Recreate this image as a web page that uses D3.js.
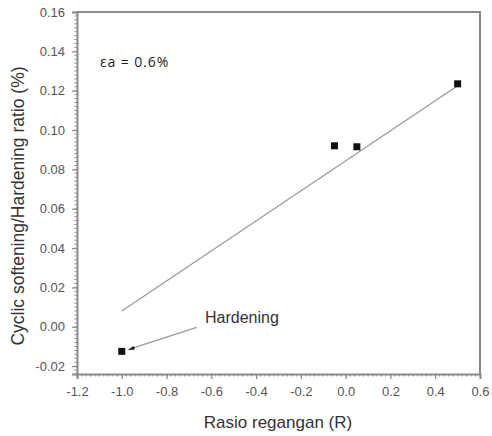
<!doctype html>
<html>
  <head>
    <meta charset="utf-8">
    <title>Cyclic softening/Hardening ratio</title>
    <script src="https://d3js.org/d3.v7.min.js"></script>
    <style type="text/css">
      body { margin: 0; background-color: #ffffff; }
      text { font-family: "Liberation Sans", Arial, sans-serif; }
    </style>
  </head>
  <body>
    <script>
      // data
      var ratioR = [-1.0, -0.05, 0.05, 0.5];
      var softening = [-0.0125, 0.092, 0.0915, 0.1235];
      // fitted line end points
      var fitR = [-1.0, 0.5];
      var fitVal = [0.008, 0.1225];
      var xTicks = [-1.2, -1.0, -0.8, -0.6, -0.4, -0.2, 0.0, 0.2, 0.4, 0.6];
      var yTicks = [-0.02, 0.00, 0.02, 0.04, 0.06, 0.08, 0.10, 0.12, 0.14, 0.16];

      var w = 492, h = 436;
      var mLeft = 77, mRight = 480, mTop = 12, mBottom = 374;

      var svg = d3.select("body").append("svg")
        .attr("width", w)
        .attr("height", h);

      var x = d3.scaleLinear().domain([-1.2, 0.6]).range([mLeft, mRight]);
      var y = d3.scaleLinear().domain([-0.024, 0.16]).range([mBottom, mTop]);

      var axisColor = "#8a8a8a";

      // plain hyphen minus like the original
      function fmt(p) {
        return function(d) {
          var s = Math.abs(d).toFixed(p);
          return (d < -1e-9 ? "-" : "") + s;
        };
      }

      // minor ticks
      var xMinor = d3.range(0, 91).map(function(i) { return -1.2 + i * 0.02; });
      var yMinor = d3.range(0, 93).map(function(i) { return -0.024 + i * 0.002; });
      svg.append("g").selectAll("line")
        .data(xMinor).enter().append("line")
        .attr("x1", function(d) { return x(d); })
        .attr("x2", function(d) { return x(d); })
        .attr("y1", mBottom).attr("y2", mBottom + 2.5)
        .attr("stroke", axisColor).attr("stroke-width", 1);
      svg.append("g").selectAll("line")
        .data(yMinor).enter().append("line")
        .attr("y1", function(d) { return y(d); })
        .attr("y2", function(d) { return y(d); })
        .attr("x1", mLeft).attr("x2", mLeft - 2.5)
        .attr("stroke", axisColor).attr("stroke-width", 1);

      // axes
      var xAxis = svg.append("g")
        .attr("transform", "translate(0," + mBottom + ")")
        .call(d3.axisBottom(x).tickValues(xTicks).tickSize(5).tickPadding(8)
          .tickFormat(fmt(1)));
      var yAxis = svg.append("g")
        .attr("transform", "translate(" + mLeft + ",0)")
        .call(d3.axisLeft(y).tickValues(yTicks).tickSize(5).tickPadding(7)
          .tickFormat(fmt(2)));

      [xAxis, yAxis].forEach(function(a) {
        a.select(".domain").attr("stroke", axisColor).attr("stroke-width", 2);
        a.selectAll(".tick line").attr("stroke", axisColor).attr("stroke-width", 1.2);
        a.selectAll(".tick text")
          .attr("fill", "#555")
          .style("font-size", "13px");
      });

      // top and right frame
      svg.append("path")
        .attr("d", "M" + mLeft + "," + mTop + "H" + mRight + "V" + mBottom)
        .attr("fill", "none")
        .attr("stroke", axisColor)
        .attr("stroke-width", 2);

      // fitted line
      var line = d3.line()
        .x(function(d) { return x(d[0]); })
        .y(function(d) { return y(d[1]); });
      svg.append("path")
        .datum(d3.zip(fitR, fitVal))
        .attr("d", line)
        .attr("fill", "none")
        .attr("stroke", "#9a9a9a")
        .attr("stroke-width", 1.3);

      // data points
      svg.append("g").selectAll("rect")
        .data(d3.zip(ratioR, softening)).enter().append("rect")
        .attr("x", function(d) { return x(d[0]) - 3.5; })
        .attr("y", function(d) { return y(d[1]) - 3.5; })
        .attr("width", 7)
        .attr("height", 7)
        .attr("fill", "#111");

      // annotation arrow for hardening
      var px = x(ratioR[0]), py = y(softening[0]);
      svg.append("line")
        .attr("x1", px + 10).attr("y1", py - 3)
        .attr("x2", px + 75).attr("y2", py - 24)
        .attr("stroke", "#999").attr("stroke-width", 1.3);
      svg.append("path")
        .attr("d", "M" + (px + 6) + "," + (py - 1.5) + "L" + (px + 12) + "," + (py - 5.5) + "L" + (px + 13) + "," + (py - 2) + "Z")
        .attr("fill", "#111");
      svg.append("text")
        .attr("x", 205).attr("y", 323)
        .attr("fill", "#333")
        .style("font-size", "16px")
        .text("Hardening");

      // strain amplitude label
      svg.append("text")
        .attr("x", 100).attr("y", 67)
        .attr("fill", "#222")
        .style("font-family", "'Open Sans', sans-serif")
        .style("font-size", "14px")
        .style("letter-spacing", "0.9px")
        .text("\u03b5a = 0.6%");

      // axis titles
      svg.append("text")
        .attr("x", 278).attr("y", 428)
        .attr("text-anchor", "middle")
        .attr("fill", "#333")
        .style("font-size", "17px")
        .text("Rasio regangan (R)");
      svg.append("text")
        .attr("transform", "translate(24,206) rotate(-90)")
        .attr("text-anchor", "middle")
        .attr("fill", "#333")
        .style("font-size", "17.5px")
        .text("Cyclic softening/Hardening ratio (%)");
    </script>
  </body>
</html>
